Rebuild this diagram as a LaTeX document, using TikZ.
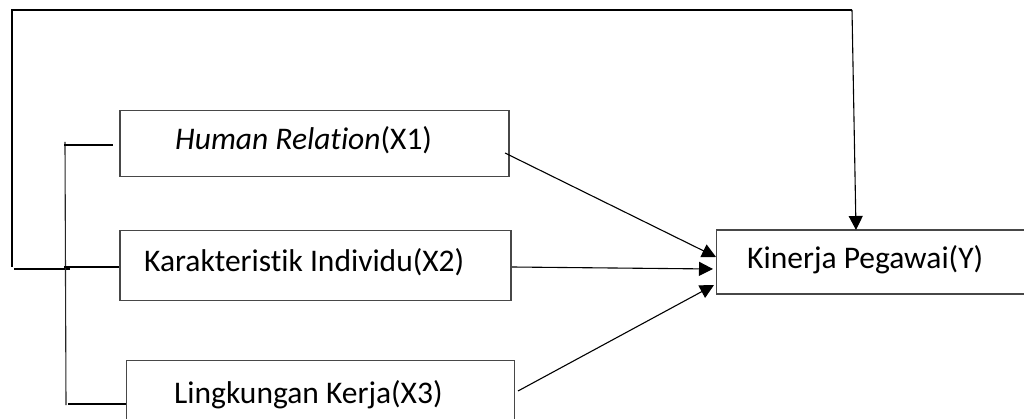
\documentclass[tikz,border=0pt]{standalone}
\usepackage{fontspec}
\setmainfont{Carlito}[Ligatures=NoCommon]
\usetikzlibrary{arrows.meta,calc}
\begin{document}
\begin{tikzpicture}[x=1pt,y=-1pt,
  box/.style={draw=black!72,line width=1.1pt,inner sep=0pt},
  lbl/.style={anchor=base west,inner sep=0pt,font=\fontsize{31.5}{36}\selectfont},
  conn/.style={line width=1.1pt,-{Triangle[length=14pt,width=14pt]}},
  thickln/.style={line width=1.8pt},
  thinln/.style={line width=1.1pt,draw=black!85}]
\clip (0,0) rectangle (1024,419);
\fill[white] (0,0) rectangle (1024,419);
% boxes
\node[box,minimum width=389pt,minimum height=66pt] (X1) at (314.5,143.7) {};
\node[box,minimum width=391pt,minimum height=70pt] (X2) at (315.5,265.7) {};
\node[box,minimum width=388pt,minimum height=70pt] (X3) at (320.7,395.7) {};
\node[box,minimum width=320pt,minimum height=64pt] (Y) at (876.7,262) {};
% labels
\node[lbl] (t1) at (175,150) {\textit{Human Relation}(X1)};
\node[lbl] (t2) at (144,272) {Karakteristik Individu(X2)};
\node[lbl] (t3) at (174,403) {Lingkungan Kerja(X3)};
\node[lbl] (ty) at (747,269) {Kinerja Pegawai(Y)};
% connector points
\coordinate (s1) at (505,153);
\coordinate (e1) at (716,257);
\coordinate (s2) at (512,267);
\coordinate (e2) at (713,269);
\coordinate (s3) at (518,391);
\coordinate (e3) at (714,285);
\coordinate (fbB) at (12,267);
\coordinate (fbT) at (12,10);
\coordinate (fbR) at (852,10);
\coordinate (fbE) at (856,230);
\coordinate (lb1) at (14,269);
\coordinate (lb2) at (70,269);
\coordinate (brT) at (65,142);
\coordinate (brB) at (66,405);
\coordinate (b1a) at (64,145);
\coordinate (b1b) at (113,145);
\coordinate (b2a) at (64,267);
\coordinate (b3a) at (68,404);
% arrows to Y
\draw[conn] (s1) -- (e1);
\draw[conn] (s2) -- (e2);
\draw[conn] (s3) -- (e3);
% feedback line
\draw[thickln] (fbB) -- (fbT) -- (fbR);
\draw[conn] (fbR) -- (fbE);
\draw[thickln] (lb1) -- (lb2);
% bracket
\draw[thinln] (brT) -- (brB);
\draw[thickln] (b1a) -- (b1b);
\draw[thickln] (b2a) -- (b2a -| X2.west);
\draw[thickln] (b3a) -- (b3a -| X3.west);
\end{tikzpicture}
\end{document}
